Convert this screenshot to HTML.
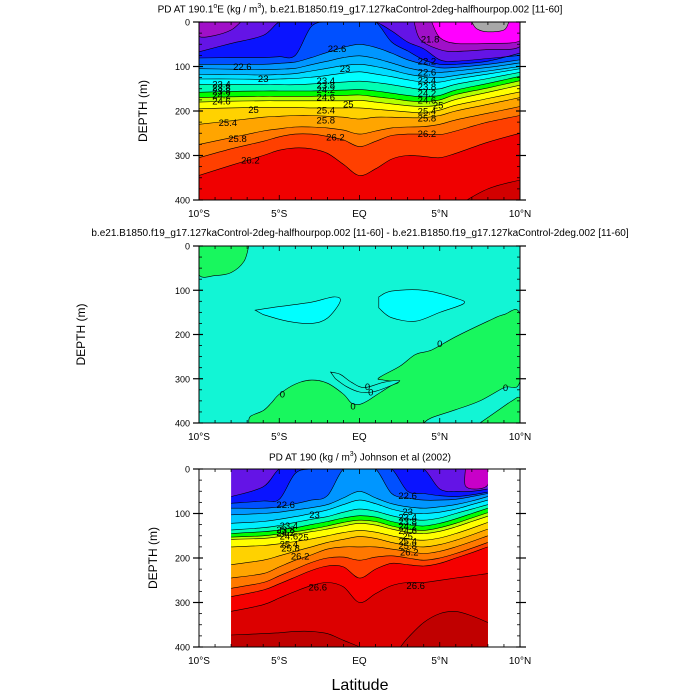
<!DOCTYPE html>
<html><head><meta charset="utf-8"><style>
html,body{margin:0;padding:0;background:#fff;}
svg{display:block;font-family:"Liberation Sans",sans-serif;}
</style></head><body>
<svg id="c" width="700" height="700" viewBox="0 0 700 700"></svg>
<script>
// ---- data ----
const p1Lats=[-10,-8,-6,-5,-4,-3,-2,-1,0,1,2,3,4,5,6,8,10];
const p1Colors=["#0a14ff","#0050ff","#0096ff","#00b4ff","#00dcff","#00ffff","#00ffb4","#00ff00","#b4ff00","#ffff00","#ffd200","#ffa500","#ff7800","#ff4000","#f00000","#d20000"];
const p1Depths=[
[67,48,30,0,0,0,0,0,0,0,20,45,60,85,88,82,75],
[81,80,80,78,75,10,0,0,0,0,45,65,85,95,95,88,70],
[95,95,95,93,90,80,68,57,50,57,70,85,95,103,102,95,85],
[105,106,107,106,104,96,88,80,76,82,92,103,110,113,110,102,92],
[118,118,119,118,116,110,104,98,95,100,108,117,123,125,120,110,100],
[128,128,129,128,127,124,120,115,112,117,123,130,135,135,128,117,105],
[140,140,141,141,141,139,137,135,133,136,141,147,152,150,140,127,113],
[158,156,155,155,155,155,154,153,152,155,160,165,168,165,153,138,122],
[170,168,167,167,167,167,166,165,164,168,172,177,179,175,163,148,132],
[180,178,177,177,177,177,177,177,176,180,184,188,190,186,174,158,142],
[195,193,192,192,192,193,193,193,193,196,199,202,204,198,187,172,157],
[230,222,214,212,210,210,212,214,218,214,214,215,215,210,200,185,170],
[275,260,245,240,236,236,238,243,252,245,238,236,235,230,220,205,190],
[305,285,268,258,252,252,257,265,280,268,255,252,252,253,245,225,210],
[345,322,300,288,283,285,295,320,345,330,308,300,302,305,295,270,250],
[440,440,440,440,440,440,440,440,440,440,440,440,440,440,415,375,355]];
const p1PatchLeft=[[-10,0],[-10,32],[-9,30],[-8,18],[-7.4,0]];
const p1PatchPurple=[[3.4,0],[3.8,40],[5,62],[6,66],[8,62],[10,55],[10,0]];
const p1PatchMagenta=[[4.5,0],[5,35],[6,48],[8,48],[10,42],[10,0]];
const p1PatchGray=[[7,0],[7.3,15],[8,22],[9,18],[9.3,0]];
const p1Labels=[["22.6",-7.3,100],["23",-6,127],["23.4",-8.6,139],["23.8",-8.6,147],["23.8",-8.6,155],["24.2",-8.6,164],["24.6",-8.6,178],["25",-6.6,197],["25.4",-8.2,226],["25.8",-7.6,262],["26.2",-6.8,310],
["22.6",-1.4,60],["23",-0.9,105],["23.4",-2.1,132],["23.8",-2.1,142],["24.2",-2.1,152],["24.6",-2.1,168],["25",-0.7,184],["25.4",-2.1,198],["25.8",-2.1,220],["26.2",-1.5,258],
["21.8",4.4,38],["22.2",4.2,88],["22.6",4.2,112],["23.4",4.2,130],["23.8",4.2,145],["24.2",4.2,160],["24.6",4.2,175],["25",4.9,186],["25.4",4.2,200],["25.8",4.2,216],["26.2",4.2,250]];

const p2Base="#12f5d5";
const p2Green="#18f75e";
const p2Cyan="#00ffff";
const p2GreenTop=[[-10,0],[-10,65],[-9,67],[-8,60],[-7.2,35],[-6.9,0]];
const p2GreenLow=[[-6.9,400],[-6.8,385],[-6,372],[-5.5,355],[-5,335],[-4,312],[-3,303],[-2,310],[-1,335],[-0.5,355],[0,358],[0.5,350],[1,338],[2,315],[2.4,308],[1.5,303],[1.2,298],[2.5,272],[3.5,245],[4.5,235],[6,205],[8,170],[9,155],[10,155],[10,305],[9,320],[7.5,350],[6,370],[4.5,388],[4,400]];
const p2GreenCorner=[[7.5,400],[8.5,375],[9.5,350],[10,345],[10,400]];
const p2Tongue=[[-1.8,285],[-1.2,290],[-0.5,308],[0.3,320],[1.5,308],[2.5,304],[2,315],[0.8,330],[0,330],[-0.8,318],[-1.5,300]];
const p2BlobLeft=[[-6.5,145],[-5,137],[-3,127],[-1.6,115],[-1.2,125],[-2,163],[-3,175],[-4.5,170],[-6,155]];
const p2BlobRight=[[1.2,115],[2,102],[4,100],[6,118],[6.5,130],[5,150],[3.5,170],[2,162],[1.2,140]];
const p2Labels=[["0",-4.8,335],["0",-0.4,362],["0",0.5,318],["0",0.7,330],["0",5,220],["0",9.1,320]];

const p3Lats=[-8,-6,-5,-4,-3,-2,-1,0,1,2,3,4,5,6,7,8];
const p3Colors=["#0a14ff","#0050ff","#0096ff","#00c8ff","#00f0ff","#00ffb4","#00ff00","#b4ff00","#ffff00","#ffd200","#ffa500","#ff7800","#ff4000","#f50000","#dc0000","#c00000"];
const p3Depths=[
[62,40,0,0,0,0,0,0,0,0,0,0,45,50,50,45],
[77,72,68,10,0,0,0,0,0,0,50,55,60,62,58,52],
[88,88,85,78,70,60,0,0,0,55,65,70,70,68,62,55],
[103,100,97,92,87,80,65,50,65,78,85,88,85,80,72,62],
[122,118,113,107,100,92,80,70,78,90,98,100,97,90,80,70],
[137,132,127,120,113,107,97,90,95,105,112,115,110,100,90,80],
[145,141,137,132,125,118,110,105,108,118,125,128,122,112,100,88],
[153,150,146,141,135,128,120,115,118,128,135,138,132,122,110,98],
[158,156,152,147,141,135,128,122,126,135,142,145,140,130,118,106],
[175,172,168,163,157,150,143,138,142,150,157,160,155,145,133,120],
[215,205,195,185,175,165,158,152,156,165,172,175,170,160,148,135],
[245,235,220,205,193,180,175,175,175,180,185,190,185,175,163,150],
[268,255,240,225,210,200,198,205,198,195,200,205,200,190,178,165],
[287,272,258,243,228,218,220,245,225,212,215,218,212,200,188,175],
[320,305,290,275,262,255,265,300,280,262,255,255,250,245,240,235],
[373,370,368,365,365,370,385,400,420,420,380,345,325,320,330,345]];
const p3Patch=[[6.6,0],[6.6,38],[7.3,45],[8,35],[8,0]];
const p3Labels=[["22.6",-4.6,80],["23",-2.8,102],["23.4",-4.4,127],["23.8",-4.6,136],["24.2",-4.6,143],["24.6",-4.4,150],["25",-3.5,153],["25.4",-4.4,168],["25.8",-4.3,178],["26.2",-3.7,195],["26.6",-2.6,265],
["22.6",3,60],["23",3,95],["23.4",3,108],["23.8",3,118],["24.2",3,128],["24.6",3,138],["25",3,150],["25.4",3,162],["25.8",3,172],["26.2",3.1,186],["26.6",3.5,262]];

const xTickLabels=["10°S","5°S","EQ","5°N","10°N"];
const xTickVals=[-10,-5,0,5,10];
const yTickVals=[0,100,200,300,400];

// ---- drawing ----
const svg=document.getElementById('c');
const NS="http://www.w3.org/2000/svg";
function mk(tag,attrs,parent){const e=document.createElementNS(NS,tag);for(const k in attrs)e.setAttribute(k,attrs[k]);(parent||svg).appendChild(e);return e;}
const panels=[{x0:199,x1:520,y0:22,y1:200},{x0:199,x1:520,y0:246,y1:423},{x0:199,x1:520,y0:469,y1:647}];
function xS(p,lat){return p.x0+(lat+10)/20*(p.x1-p.x0);}
function yS(p,d){return p.y0+d/400*(p.y1-p.y0);}
function smooth(pts){
  let d="M"+pts[0][0].toFixed(1)+","+pts[0][1].toFixed(1);
  for(let i=0;i<pts.length-1;i++){
    const p0=pts[Math.max(0,i-1)],p1=pts[i],p2=pts[i+1],p3=pts[Math.min(pts.length-1,i+2)];
    const c1=[p1[0]+(p2[0]-p0[0])/6,p1[1]+(p2[1]-p0[1])/6];
    const c2=[p2[0]-(p3[0]-p1[0])/6,p2[1]-(p3[1]-p1[1])/6];
    d+=" C"+c1[0].toFixed(1)+","+c1[1].toFixed(1)+" "+c2[0].toFixed(1)+","+c2[1].toFixed(1)+" "+p2[0].toFixed(1)+","+p2[1].toFixed(1);
  }
  return d;
}
function clipFor(i,x0,x1,p){
  const defs=mk('defs',{});
  const cp=mk('clipPath',{id:'clip'+i},defs);
  mk('rect',{x:x0,y:p.y0,width:x1-x0,height:p.y1-p.y0},cp);
  return 'url(#clip'+i+')';
}
function bands(p,g,lats,depths,colors){
  depths.forEach((row,k)=>{
    const pts=lats.map((l,j)=>[xS(p,l),yS(p,row[j])]);
    const d=smooth(pts);
    const last=lats[lats.length-1],first=lats[0];
    const fill=mk('path',{d:d+" L"+xS(p,last)+","+yS(p,460)+" L"+xS(p,first)+","+yS(p,460)+" Z",fill:colors[k]},g);
    
    
  });
  depths.forEach((row)=>{
    const pts=lats.map((l,j)=>[xS(p,l),yS(p,row[j])]);
    const ln=mk('path',{d:smooth(pts),fill:'none',stroke:'#000','stroke-width':0.6},g);
    
    
  });
}
function patch(p,g,pts,color){
  const sp=pts.map(q=>[xS(p,q[0]),yS(p,q[1])]);
  const e=mk('path',{d:smooth(sp)+" Z",fill:color,stroke:'#000','stroke-width':0.6},g);
  
  
}
function labels(p,g,arr){
  arr.forEach(a=>{
    const t=mk('text',{x:xS(p,a[1]),y:yS(p,a[2])+3.5,'font-size':9.5,'text-anchor':'middle',fill:'#000'},g);
    t.textContent=a[0];
    
    
  });
}
function axes(p,idx,depthX){
  const g=mk('g',{});
  
  
  mk('rect',{x:p.x0,y:p.y0,width:p.x1-p.x0,height:p.y1-p.y0,fill:'none',stroke:'#000','stroke-width':1},g);
  for(let l=-10;l<=10;l++){
    const x=xS(p,l),len=(l%5===0)?5:3;
    mk('line',{x1:x,y1:p.y1,x2:x,y2:p.y1-len,stroke:'#000','stroke-width':0.8},g);
    mk('line',{x1:x,y1:p.y0,x2:x,y2:p.y0+len,stroke:'#000','stroke-width':0.8},g);
  }
  for(let d=0;d<=400;d+=25){
    const y=yS(p,d),maj=d%100===0;
    if(maj){
      mk('line',{x1:p.x0-6,y1:y,x2:p.x0+4,y2:y,stroke:'#000','stroke-width':1.2},g);
      mk('line',{x1:p.x1-4,y1:y,x2:p.x1+6,y2:y,stroke:'#000','stroke-width':1.2},g);
    }else{
      mk('line',{x1:p.x0,y1:y,x2:p.x0+3,y2:y,stroke:'#000','stroke-width':0.8},g);
      mk('line',{x1:p.x1-3,y1:y,x2:p.x1,y2:y,stroke:'#000','stroke-width':0.8},g);
    }
  }
  xTickVals.forEach((v,i)=>{
    const t=mk('text',{x:xS(p,v),y:p.y1+17,'font-size':10,'text-anchor':'middle'},g);
    t.textContent=xTickLabels[i];
    
    
  });
  yTickVals.forEach(v=>{
    const t=mk('text',{x:p.x0-9,y:yS(p,v)+3.5,'font-size':9,'text-anchor':'end'},g);
    t.textContent=String(v);
    
    
  });
  const yc=(p.y0+p.y1)/2;
  const yt=mk('text',{x:depthX,y:yc,'font-size':12,'text-anchor':'middle',transform:'rotate(-90 '+depthX+' '+yc+')'},g);
  yt.textContent="DEPTH (m)";
  
  
}
// panel 1
{
  const p=panels[0];
  const g=mk('g',{'clip-path':clipFor(1,p.x0,p.x1,p)});
  
  
  mk('rect',{x:p.x0,y:p.y0,width:p.x1-p.x0,height:p.y1-p.y0,fill:'#6414e6'},g);
  bands(p,g,p1Lats,p1Depths,p1Colors);
  patch(p,g,p1PatchLeft,'#a010c8');
  patch(p,g,p1PatchPurple,'#a010c8');
  patch(p,g,p1PatchMagenta,'#ff00ff');
  patch(p,g,p1PatchGray,'#a8a8a8');
  labels(p,g,p1Labels);
  axes(p,0,147);
}
// panel 2
{
  const p=panels[1];
  const g=mk('g',{'clip-path':clipFor(2,p.x0,p.x1,p)});
  
  
  mk('rect',{x:p.x0,y:p.y0,width:p.x1-p.x0,height:p.y1-p.y0,fill:p2Base},g);
  patch(p,g,p2GreenTop,p2Green);
  patch(p,g,p2GreenLow,p2Green);
  patch(p,g,p2GreenCorner,p2Green);
  patch(p,g,p2Tongue,p2Base);
  patch(p,g,p2BlobLeft,p2Cyan);
  patch(p,g,p2BlobRight,p2Cyan);
  labels(p,g,p2Labels);
  axes(p,1,85);
}
// panel 3
{
  const p=panels[2];
  const g=mk('g',{'clip-path':clipFor(3,xS(p,-8),xS(p,8),p)});
  
  
  mk('rect',{x:p.x0,y:p.y0,width:p.x1-p.x0,height:p.y1-p.y0,fill:'#6414e6'},g);
  bands(p,g,p3Lats,p3Depths,p3Colors);
  patch(p,g,p3Patch,'#c800c8');
  labels(p,g,p3Labels);
  axes(p,2,157);
}
</script>
<div style="position:absolute;left:0;top:0;width:700px;height:700px;pointer-events:none;font-family:'Liberation Sans',sans-serif;">
  <div style="position:absolute;left:0;width:720px;top:3px;text-align:center;font-size:10px;">PD AT 190.1<sup style="font-size:7px">o</sup>E (kg / m<sup style="font-size:7px">3</sup>), b.e21.B1850.f19_g17.127kaControl-2deg-halfhourpop.002 [11-60]</div>
  <div style="position:absolute;left:0;width:720px;top:228px;text-align:center;font-size:10px;white-space:nowrap;">b.e21.B1850.f19_g17.127kaControl-2deg-halfhourpop.002 [11-60] - b.e21.B1850.f19_g17.127kaControl-2deg.002 [11-60]</div>
  <div style="position:absolute;left:0;width:720px;top:451px;text-align:center;font-size:10px;">PD AT 190 (kg / m<sup style="font-size:7px">3</sup>) Johnson et al (2002)</div>
  <div style="position:absolute;left:0;width:720px;top:677px;text-align:center;font-size:16px;">Latitude</div>
</div>
</body></html>
